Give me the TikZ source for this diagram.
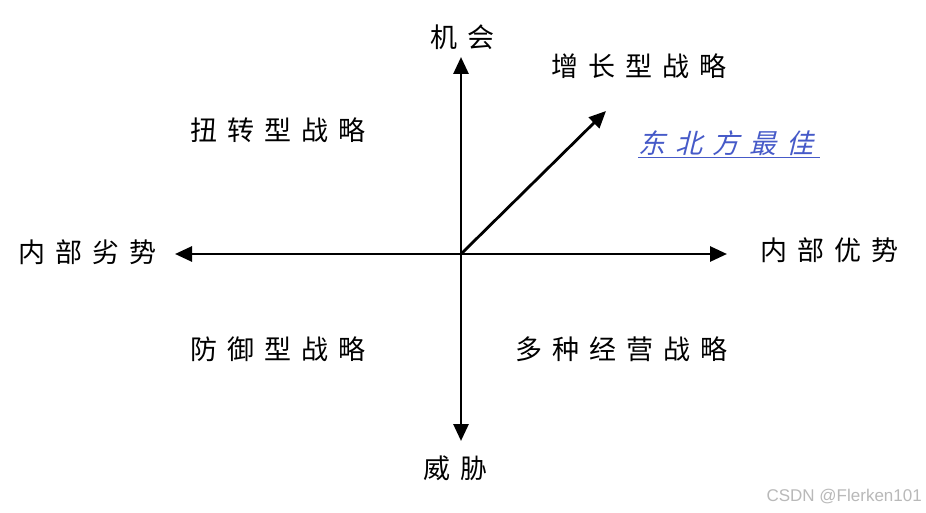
\documentclass[tikz,border=0pt]{standalone}
\usepackage{fontspec}
\usetikzlibrary{arrows.meta}
\newfontfamily\cjk[LetterSpace=37]{Noto Sans CJK SC}
\newfontfamily\cjkit[LetterSpace=37,FakeSlant=0.25]{Noto Sans CJK SC}
\newfontfamily\wmfont{Liberation Sans}
\definecolor{linkblue}{RGB}{70,90,200}
\definecolor{wmgray}{RGB}{185,185,185}
\tikzset{
  axis/.style={line width=2.8pt,-{Triangle[length=17pt,width=15pt]}},
  lbl/.style={font=\cjk\fontsize{27}{27}\selectfont,inner sep=0pt,anchor=west},
}
\begin{document}
\begin{tikzpicture}[x=1pt,y=-1pt]
\useasboundingbox[fill=white] (0,0) rectangle (926,513);
\coordinate (O) at (461,254);
\coordinate (N) at (461,57);
\coordinate (S) at (461,441);
\coordinate (W) at (175,254);
\coordinate (E) at (727,254);
\coordinate (NE) at (606,111);
\draw[axis] (O) -- (N);
\draw[axis] (O) -- (S);
\draw[axis] (O) -- (W);
\draw[axis] (O) -- (E);
\draw[axis] (O) -- (NE);
\node[lbl] (jihui) at (430,37) {机会};
\node[lbl] (weixie) at (423,468) {威胁};
\node[lbl] (lieshi) at (18,252) {内部劣势};
\node[lbl] (youshi) at (760,250) {内部优势};
\node[lbl] (zengzhang) at (551,66) {增长型战略};
\node[lbl] (niuzhuan) at (190,130) {扭转型战略};
\node[lbl] (fangyu) at (190,349) {防御型战略};
\node[lbl] (duozhong) at (515,349) {多种经营战略};
\node[lbl,font=\cjkit\fontsize{27}{27}\selectfont,text=linkblue] (best) at (638,143) {东北方最佳};
\draw[linkblue,line width=1.4pt] (638,157.5) -- (820,157.5);
\node[font=\wmfont\fontsize{17}{18}\selectfont,text=wmgray,inner sep=0pt,anchor=east] (wm) at (922,497) {CSDN @Flerken101};
\end{tikzpicture}
\end{document}
